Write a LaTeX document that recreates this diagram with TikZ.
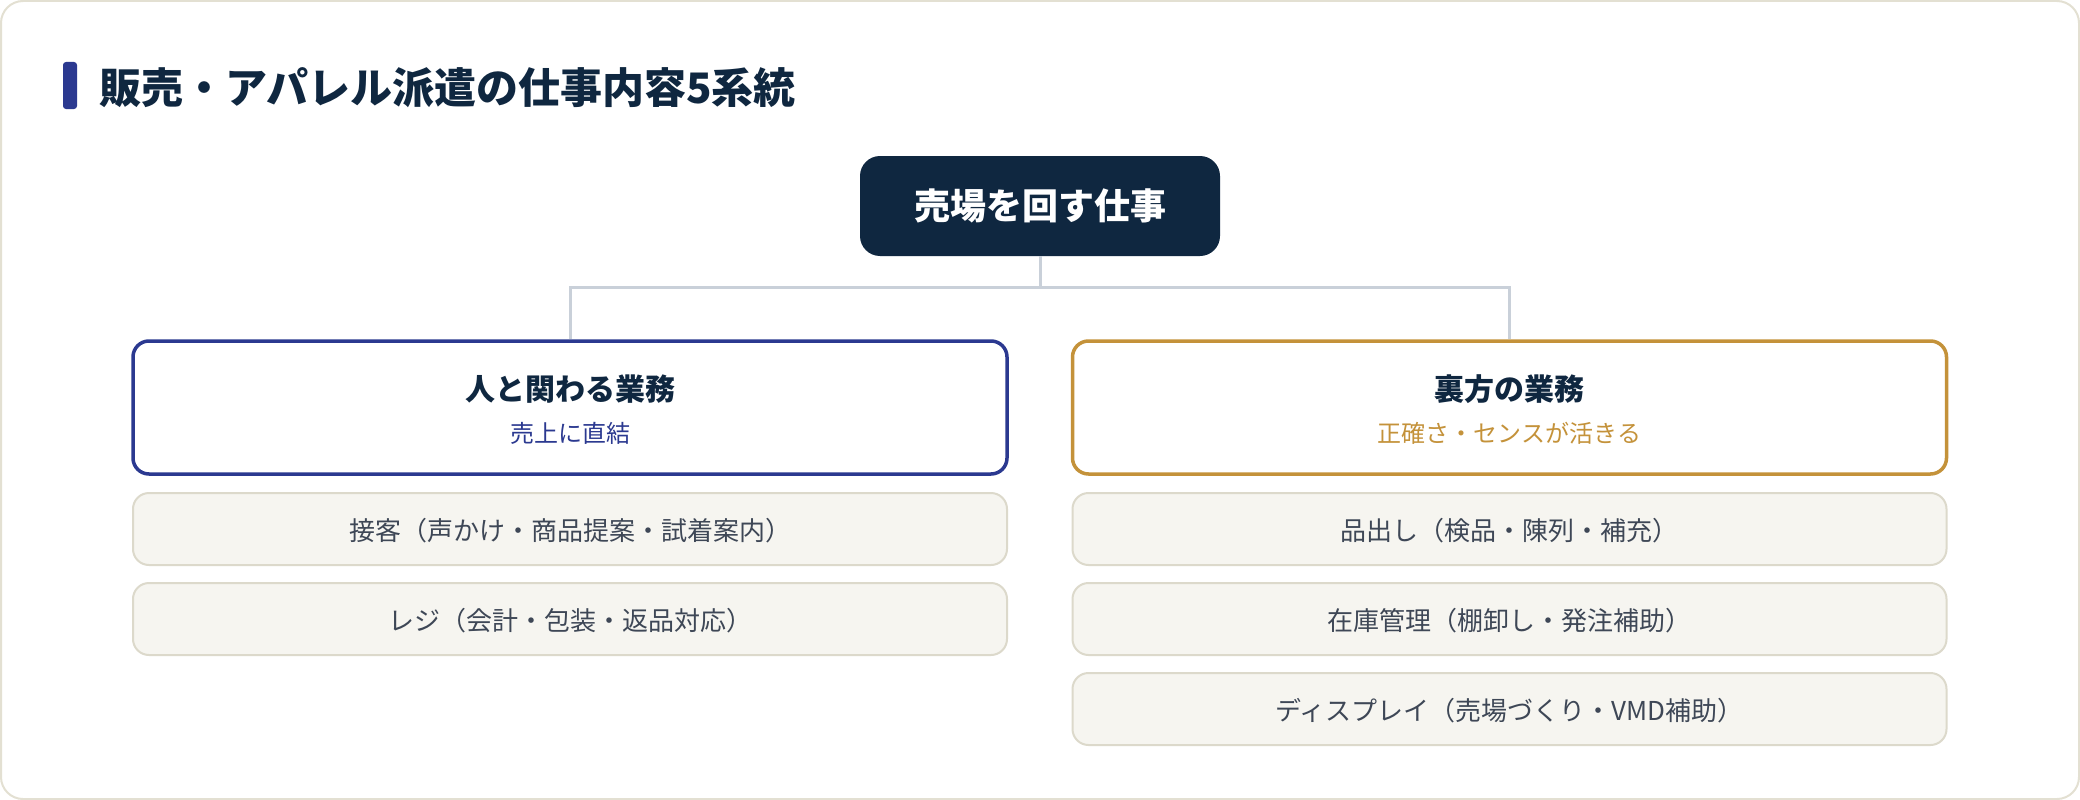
\documentclass[tikz,border=0pt]{standalone}
\usepackage{fontspec}
\setmainfont{Noto Sans CJK JP}
\definecolor{navy}{HTML}{0F2740}
\definecolor{indigo}{HTML}{2B3990}
\definecolor{gold}{HTML}{C4923A}
\definecolor{connc}{HTML}{C9D0D9}
\definecolor{cardline}{HTML}{E3E0D2}
\definecolor{itemfill}{HTML}{F6F5F0}
\definecolor{itemline}{HTML}{DCD9CB}
\definecolor{itemtext}{HTML}{3E4756}
\tikzset{
  card/.style={draw=cardline, line width=2pt, fill=white, rounded corners=22pt},
  titletext/.style={anchor=west, inner sep=0pt, text=navy, font=\fontsize{42pt}{50pt}\selectfont\bfseries},
  topbox/.style={rectangle, rounded corners=20pt, fill=navy, text=white, minimum width=360pt, minimum height=100pt, inner sep=0pt, font=\fontsize{36pt}{42pt}\selectfont\bfseries},
  conn/.style={draw=connc, line width=3pt},
  hbox/.style={rectangle, rounded corners=16pt, fill=white, line width=3.5pt, minimum width=874pt, minimum height=133pt, inner sep=0pt},
  htitle/.style={inner sep=0pt, text=navy, font=\fontsize{30pt}{36pt}\selectfont\bfseries},
  hsub/.style={inner sep=0pt, font=\fontsize{24pt}{30pt}\selectfont},
  itembox/.style={rectangle, rounded corners=16pt, fill=itemfill, draw=itemline, line width=2pt, minimum width=874pt, minimum height=72pt, inner sep=0pt},
  itemtxt/.style={inner sep=0pt, text=itemtext, font=\fontsize{26pt}{30pt}\selectfont},
}
\begin{document}
\begin{tikzpicture}[x=1pt,y=-1pt]
\useasboundingbox (0,0) rectangle (2080,800);
\draw[card] (1,1) rectangle (2079,799);
% title
\fill[indigo, rounded corners=3pt] (63,62) rectangle (77,109);
\node[titletext] (title) at (99,88) {販売・アパレル派遣の仕事内容5系統};
% top node
\node[topbox] (top) at (1040,206) {売場を回す仕事};
% header boxes
\node[hbox, draw=indigo] (lh) at (570,407.5) {};
\node[hbox, draw=gold] (rh) at (1509.5,407.5) {};
\node[htitle] (lht) at (570,389) {人と関わる業務};
\node[hsub, text=indigo] (lhs) at (570,433) {売上に直結};
\node[htitle] (rht) at (1509.5,389) {裏方の業務};
\node[hsub, text=gold] (rhs) at (1509.5,433) {正確さ・センスが活きる};
% connectors
\coordinate (j) at (1040,287);
\draw[conn] (top.south) -- (j);
\draw[conn] (lh.north) |- (j);
\draw[conn] (rh.north) |- (j);
% items
\node[itembox] (l1) at (570,529) {};
\node[itembox] (l2) at (570,619) {};
\node[itembox] (r1) at (1509.5,529) {};
\node[itembox] (r2) at (1509.5,619) {};
\node[itembox] (r3) at (1509.5,709) {};
\node[itemtxt] (l1t) at ([yshift=-2pt]l1.center) {接客（声かけ・商品提案・試着案内）};
\node[itemtxt] (l2t) at ([yshift=-2pt]l2.center) {レジ（会計・包装・返品対応）};
\node[itemtxt] (r1t) at ([yshift=-2pt]r1.center) {品出し（検品・陳列・補充）};
\node[itemtxt] (r2t) at ([yshift=-2pt]r2.center) {在庫管理（棚卸し・発注補助）};
\node[itemtxt] (r3t) at ([yshift=-2pt]r3.center) {ディスプレイ（売場づくり・VMD補助）};
\end{tikzpicture}
\end{document}
